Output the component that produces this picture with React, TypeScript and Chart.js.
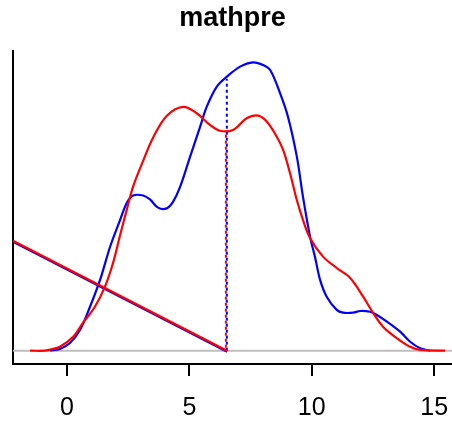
import React, { useEffect, useRef } from "react";
import { Chart, registerables } from "chart.js";

Chart.register(...registerables);

const titleText = "mathpre";
const xTicks = [0, 5, 10, 15];

const blueX = [-0.69, -0.29, 0.12, 0.53, 0.94, 1.35, 1.76, 2.17, 2.44, 2.70, 3.11, 3.39, 3.72, 4.07, 4.33, 4.62, 5.03, 5.44, 5.71, 6.12, 6.53, 7.07, 7.60, 8.01, 8.30, 8.70, 9.03, 9.39, 9.64, 9.93, 10.13, 10.34, 10.61, 11.02, 11.28, 11.69, 11.97, 12.38, 12.66, 13.07, 13.61, 14.02, 14.43, 14.83];
const blueY = [0, 0.0009, 0.0041, 0.0111, 0.0236, 0.038, 0.0558, 0.0702, 0.0793, 0.0833, 0.0833, 0.0812, 0.0768, 0.0764, 0.0799, 0.0879, 0.1042, 0.1203, 0.131, 0.1418, 0.1471, 0.1525, 0.1548, 0.1534, 0.1507, 0.1384, 0.1255, 0.1042, 0.0827, 0.0612, 0.0505, 0.038, 0.029, 0.0219, 0.0204, 0.0204, 0.0213, 0.0209, 0.0192, 0.0156, 0.0102, 0.0048, 0.0013, 0];

const redX = [-1.51, -0.9, -0.69, -0.29, 0.25, 0.65, 1.14, 1.55, 1.88, 2.17, 2.44, 2.70, 3.11, 3.51, 4.07, 4.74, 5.30, 5.84, 6.25, 6.78, 7.34, 7.81, 8.16, 8.57, 8.83, 9.11, 9.39, 9.64, 9.93, 10.46, 11.02, 11.57, 12.10, 12.51, 12.91, 13.47, 14.02, 14.43, 15.45];
const redY = [0, 0, 0.0006, 0.0021, 0.0075, 0.0149, 0.0236, 0.0344, 0.0471, 0.0621, 0.0756, 0.0881, 0.1019, 0.1142, 0.126, 0.1309, 0.1275, 0.1212, 0.1181, 0.1185, 0.1248, 0.1262, 0.123, 0.1149, 0.1078, 0.0954, 0.0809, 0.0702, 0.0605, 0.0505, 0.0444, 0.039, 0.029, 0.0202, 0.0129, 0.0068, 0.0021, 0.0004, 0];

// diagonal reference line (x, y) endpoints
const diagX = [-2.21, 6.54];
const diagY = [0.0591, 0];

// vertical dotted markers
const markX = 6.53;
const blueMarkTop = 0.146;
const redMarkTop = 0.1181;

const xMin = -2.207;
const xMax = 15.73;
const yMin = -0.00714;
const yMax = 0.1609;

const pts = (xs: number[], ys: number[]) => xs.map((x, i) => ({ x, y: ys[i] }));

const FONT = "'Liberation Sans', Arial, Helvetica, sans-serif";

export default function App() {
  const ref = useRef<HTMLCanvasElement | null>(null);

  useEffect(() => {
    if (!ref.current) return;
    const line = (data: any[], color: string, extra: any = {}) => ({
      data,
      borderColor: color,
      backgroundColor: color,
      borderWidth: 2.2,
      pointRadius: 0,
      showLine: true,
      fill: false,
      tension: 0,
      ...extra,
    });
    const chart = new Chart(ref.current, {
      type: "scatter",
      data: {
        datasets: [
          line(pts(diagX, diagY), "#ff0000"),
          line([{ x: markX - 0.04, y: 0 }, { x: markX - 0.04, y: redMarkTop }], "#ff0000", { borderWidth: 2, borderDash: [3, 3], borderDashOffset: 3, borderCapStyle: "butt" }),
          line(pts(redX, redY), "#ff0000", { tension: 0.35 }),
          line(pts(diagX, diagY.map((v) => v - 0.0006)), "#0000ff"),
          line([{ x: markX, y: 0 }, { x: markX, y: blueMarkTop }], "#0000ff", { borderWidth: 2, borderDash: [3, 3], borderCapStyle: "butt" }),
          line(pts(blueX, blueY), "#0000ff", { tension: 0.35 }),
          line([{ x: xMin, y: 0 }, { x: xMax, y: 0 }], "#bebebe", { borderWidth: 2 }),
        ],
      },
      options: {
        animation: false,
        responsive: false,
        maintainAspectRatio: false,
        layout: { padding: 0 },
        plugins: {
          legend: { display: false },
          tooltip: { enabled: false },
          title: {
            display: true,
            text: titleText,
            fullSize: false,
            color: "#000",
            font: { family: FONT, size: 27, weight: "bold" },
            padding: { top: 2, bottom: 16.6 },
          },
        },
        scales: {
          x: {
            type: "linear",
            min: xMin,
            max: xMax,
            afterBuildTicks: (s: any) => {
              s.ticks = xTicks.map((v) => ({ value: v }));
            },
            afterFit: (s: any) => {
              s.height = 58;
              s.paddingLeft = 0;
              s.paddingRight = 0;
            },
            grid: {
              display: true,
              drawOnChartArea: false,
              drawTicks: true,
              tickLength: 12,
              color: "#000",
              lineWidth: 2,
            },
            border: { display: true, color: "#000", width: 2 },
            ticks: {
              color: "#000",
              font: { family: FONT, size: 25 },
              padding: 17,
              maxRotation: 0,
              autoSkip: false,
              callback: (v: any) => String(v),
            },
          },
          y: {
            type: "linear",
            min: yMin,
            max: yMax,
            afterFit: (s: any) => {
              s.width = 13;
              s.paddingTop = 0;
              s.paddingBottom = 0;
            },
            grid: { display: false, drawTicks: false },
            border: { display: true, color: "#000", width: 2 },
            ticks: { display: false },
          },
        },
      },
    } as any);
    return () => chart.destroy();
  }, []);

  return (
    <div style={{ position: "fixed", left: 0, top: 0, width: 452, height: 422, background: "#fff" }}>
      <canvas ref={ref} width={452} height={422} style={{ display: "block", width: 452, height: 422 }} />
    </div>
  );
}
